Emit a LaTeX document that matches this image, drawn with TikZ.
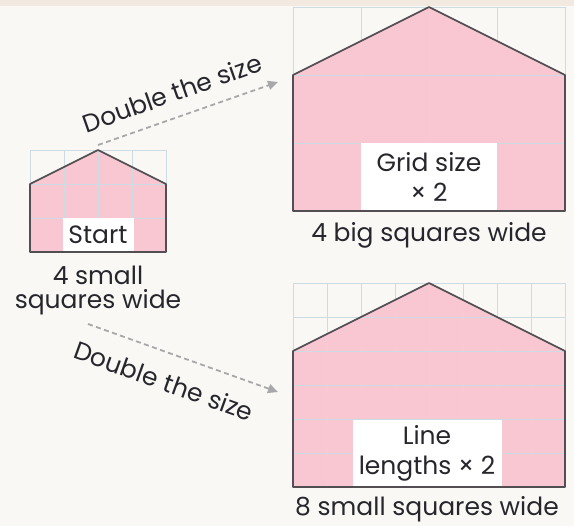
\documentclass[tikz,border=0pt]{standalone}
\usepackage{fontspec}
\setmainfont{Poppins}
\usetikzlibrary{arrows.meta,positioning}
\definecolor{PaperWhite}{RGB}{249,248,245}
\definecolor{TopBand}{RGB}{242,234,225}
\definecolor{HousePink}{RGB}{248,199,209}
\definecolor{GridBlue}{RGB}{204,220,226}
\definecolor{OutlineGray}{RGB}{82,78,82}
\definecolor{InkDark}{RGB}{38,38,44}
\definecolor{ArrowGray}{RGB}{168,168,168}
\tikzset{
  gridline/.style={GridBlue,line width=0.8pt},
  outline/.style={OutlineGray,line width=1.6pt,line join=round},
  labelbox/.style={fill=white,inner sep=0pt,align=center,text=InkDark,font=\fontsize{25}{30}\selectfont},
  caption/.style={inner sep=0pt,align=center,text=InkDark,font=\fontsize{25}{24}\selectfont},
  growarrow/.style={ArrowGray,line width=1.8pt,dash pattern=on 5pt off 3.5pt,-{Triangle[length=10pt,width=9pt]}},
  growtext/.style={inner sep=0pt,text=InkDark}
}
\begin{document}
\begin{tikzpicture}[x=1pt,y=-1pt,font=\fontsize{25}{30}\selectfont]
  \fill[PaperWhite] (0,0) rectangle (574,526);
  \fill[TopBand] (0,0) rectangle (574,6);

  % start house
  \fill[HousePink] (30,184)--(98,150)--(166,184)--(166,252)--(30,252)--cycle;
  \foreach \i in {0,...,4} \draw[gridline] ({30+34*\i},150)--({30+34*\i},252);
  \foreach \j in {0,...,3} \draw[gridline] (30,{150+34*\j})--(166,{150+34*\j});
  \node[labelbox,minimum width=71pt,minimum height=34pt] (start) at (98,235) {Start};
  \draw[outline] (30,252)--(30,184)--(98,150)--(166,184)--(166,252)--cycle;
  \node[caption,below=14pt of start] (startcap) {4 small\\squares wide};

  % big grid house
  \fill[HousePink] (293,75)--(429,7)--(565,75)--(565,211)--(293,211)--cycle;
  \foreach \i in {0,...,4} \draw[gridline] ({293+68*\i},7)--({293+68*\i},211);
  \foreach \j in {0,...,3} \draw[gridline] (293,{7+68*\j})--(565,{7+68*\j});
  \node[labelbox,minimum width=136pt,minimum height=68pt] (gridx) at (429,177) {Grid size\\× 2};
  \draw[outline] (293,211)--(293,75)--(429,7)--(565,75)--(565,211)--cycle;
  \node[caption,below=11pt of gridx] (gridcap) {4 big squares wide};

  % long lines house
  \fill[HousePink] (293,351)--(429,283)--(565,351)--(565,487)--(293,487)--cycle;
  \foreach \i in {0,...,8} \draw[gridline] ({293+34*\i},283)--({293+34*\i},487);
  \foreach \j in {0,...,6} \draw[gridline] (293,{283+34*\j})--(565,{283+34*\j});
  \node[labelbox,minimum width=149pt,minimum height=66pt] (linex) at (427,453) {Line\\lengths × 2};
  \draw[outline] (293,487)--(293,351)--(429,283)--(565,351)--(565,487)--cycle;
  \node[caption,below=10pt of linex] (linecap) {8 small squares wide};

  % arrows
  \coordinate (upfrom) at (98,145);
  \coordinate (upto) at (278,82);
  \coordinate (lowfrom) at (88,324);
  \coordinate (lowto) at (278,392);
  \draw[growarrow] (upfrom)--(upto);
  \draw[growarrow] (lowfrom)--(lowto);
  \node[growtext,rotate=19.4] (uptext) at (172,93) {Double the size};
  \node[growtext,rotate=-19.8] (lowtext) at (164,381) {Double the size};
\end{tikzpicture}
\end{document}
